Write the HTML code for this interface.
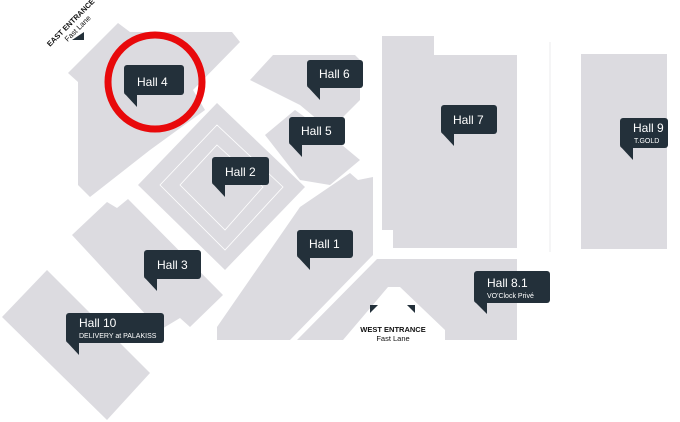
<!DOCTYPE html>
<html><head><style>body{margin:0;background:#fff}svg{display:block}text{font-family:"Liberation Sans",sans-serif}</style></head><body>
<svg width="680" height="422" viewBox="0 0 680 422">
<g fill="#dcdbe0">
<polygon points="68,73 118,23 130,32 232,32 240,42 193,90 205,110 150,150 90,197 78,185 78,82"/>
<polygon points="250,80 273,55 355,55 360,60 360,100 330,130 300,105"/>
<polygon points="265,135 295,110 330,135 360,160 330,185 300,180"/>
<polygon points="217,103 305,187 225,270 138,185"/>
<polygon points="217,340 217,327 300,207 350,173 358,180 373,177 373,255 290,340"/>
<polygon points="297,340 377,259 517,259 517,340 445,340 445,330 400,287 388,287 343,340"/>
<polygon points="382,36 434,36 434,55 517,55 517,248 393,248 393,230 382,230"/>
<rect x="581" y="54" width="86" height="195"/>
<polygon points="72,235 107,202 117,208 128,199 223,295 190,327 180,318 160,330"/>
<polygon points="2,317 47,270 150,373 107,420"/>
</g>
<g fill="none" stroke="#fff" stroke-width="0.8">
<polygon points="217,125 283,187 225,250 160,185"/>
<polygon points="217,145 263,187 225,230 180,185"/>
<line x1="550" y1="42" x2="550" y2="252" stroke="#e6e6e8"/>
</g>
<circle cx="155" cy="82" r="47" fill="none" stroke="#e8090b" stroke-width="7"/>
<g fill="#23303a">
<rect x="124" y="65" width="60" height="30" rx="3"/><polygon points="124,93 137,93 137,107"/>
<rect x="307" y="60" width="56" height="28" rx="3"/><polygon points="307,86 320,86 320,100"/>
<rect x="289" y="117" width="56" height="28" rx="3"/><polygon points="289,143 302,143 302,157"/>
<rect x="212" y="157" width="57" height="28" rx="3"/><polygon points="212,183 225,183 225,197"/>
<rect x="441" y="105" width="56" height="29" rx="3"/><polygon points="441,132 454,132 454,146"/>
<rect x="620" y="118" width="48" height="30" rx="3"/><polygon points="620,146 633,146 633,160"/>
<rect x="297" y="230" width="56" height="28" rx="3"/><polygon points="297,256 310,256 310,270"/>
<rect x="144" y="250" width="57" height="29" rx="3"/><polygon points="144,277 157,277 157,291"/>
<rect x="66" y="313" width="98" height="30" rx="3"/><polygon points="66,341 79,341 79,355"/>
<rect x="474" y="271" width="76" height="32" rx="3"/><polygon points="474,301 487,301 487,314"/>
<polygon points="72,40 84,32 84,40"/>
<polygon points="370,305 378,305 370,313"/>
<polygon points="407,305 415,305 415,313"/>
</g>
<g fill="#fff" font-size="12">
<text x="137" y="86">Hall 4</text>
<text x="319" y="78">Hall 6</text>
<text x="301" y="135">Hall 5</text>
<text x="225" y="176">Hall 2</text>
<text x="453" y="124">Hall 7</text>
<text x="633" y="132">Hall 9</text>
<text x="309" y="248">Hall 1</text>
<text x="157" y="269">Hall 3</text>
<text x="79" y="327">Hall 10</text>
<text x="487" y="287">Hall 8.1</text>
<text x="634" y="143" font-size="7">T.GOLD</text>
<text x="79" y="338" font-size="7">DELIVERY at PALAKISS</text>
<text x="487" y="298" font-size="7">VO'Clock Privé</text>
</g>
<g fill="#111" font-size="7.5">
<text x="393" y="332" text-anchor="middle" font-weight="bold">WEST ENTRANCE</text>
<text x="393" y="341" text-anchor="middle">Fast Lane</text>
<g transform="translate(50,47) rotate(-45)"><text x="0" y="0" font-weight="bold">EAST ENTRANCE</text><text x="16" y="9">Fast Lane</text></g>
</g>
</svg>
</body></html>
